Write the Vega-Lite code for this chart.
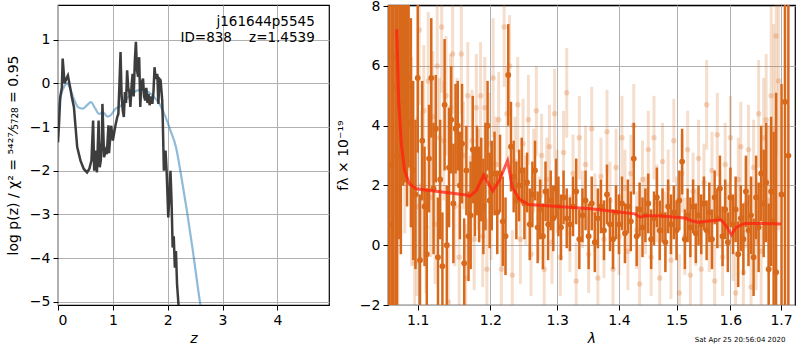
{
  "$schema": "https://vega.github.io/schema/vega-lite/v6.json",
  "padding": {"left": 5, "top": -2, "right": 0, "bottom": 0},
  "spacing": 5,
  "background": "white",
  "config": {
    "font": "DejaVu Sans",
    "view": {"stroke": "black", "strokeWidth": 1.2},
    "axis": {
      "grid": true, "gridColor": "#b0b0b0", "gridWidth": 1,
      "domain": false, "tickColor": "black", "tickSize": 5, "tickWidth": 1,
      "labelFont": "DejaVu Sans", "labelFontSize": 14, "labelColor": "black", "labelPadding": 3,
      "titleFont": "DejaVu Sans", "titleFontSize": 14, "titleFontWeight": "normal", "titleColor": "black"
    }
  },
  "datasets": {
    "pz": [
      {"z":0,"lp":-1.35},{"z":0.02,"lp":-0.9},{"z":0.04,"lp":-0.32},{"z":0.07,"lp":-0.1},{"z":0.085,"lp":0.57},{"z":0.12,"lp":0.0},{"z":0.15,"lp":0.1},{"z":0.18,"lp":0.18},{"z":0.22,"lp":-0.08},{"z":0.25,"lp":-0.3},{"z":0.29,"lp":-0.54},{"z":0.32,"lp":-1.0},{"z":0.35,"lp":-1.46},{"z":0.41,"lp":-1.77},{"z":0.47,"lp":-1.96},{"z":0.53,"lp":-2.04},{"z":0.57,"lp":-1.96},{"z":0.61,"lp":-1.77},{"z":0.64,"lp":-0.85},{"z":0.66,"lp":-2.0},{"z":0.68,"lp":-1.54},{"z":0.71,"lp":-2.04},{"z":0.74,"lp":-0.85},{"z":0.76,"lp":-1.92},{"z":0.78,"lp":-1.77},{"z":0.8,"lp":-1.31},{"z":0.81,"lp":-0.47},{"z":0.84,"lp":-1.69},{"z":0.87,"lp":-1.54},{"z":0.89,"lp":-1.62},{"z":0.92,"lp":-0.96},{"z":0.93,"lp":-1.6},{"z":0.97,"lp":-0.97},{"z":1.0,"lp":-1.31},{"z":1.02,"lp":-1.16},{"z":1.05,"lp":-0.95},{"z":1.08,"lp":-0.77},{"z":1.1,"lp":-0.7},{"z":1.12,"lp":-0.01},{"z":1.14,"lp":0.72},{"z":1.16,"lp":-0.3},{"z":1.18,"lp":-0.62},{"z":1.2,"lp":-0.77},{"z":1.22,"lp":-0.2},{"z":1.24,"lp":-0.45},{"z":1.26,"lp":0.3},{"z":1.28,"lp":-0.1},{"z":1.3,"lp":-0.2},{"z":1.32,"lp":-0.54},{"z":1.34,"lp":-0.08},{"z":1.36,"lp":0.22},{"z":1.38,"lp":-0.3},{"z":1.4,"lp":0.5},{"z":1.42,"lp":0.95},{"z":1.44,"lp":0.3},{"z":1.46,"lp":0.15},{"z":1.48,"lp":0.6},{"z":1.5,"lp":-0.54},{"z":1.52,"lp":0.0},{"z":1.55,"lp":0.11},{"z":1.57,"lp":-0.3},{"z":1.59,"lp":-0.39},{"z":1.61,"lp":-0.1},{"z":1.63,"lp":-0.45},{"z":1.65,"lp":-0.24},{"z":1.67,"lp":-0.5},{"z":1.7,"lp":-0.3},{"z":1.72,"lp":-0.47},{"z":1.74,"lp":-0.2},{"z":1.76,"lp":0.37},{"z":1.78,"lp":0.1},{"z":1.81,"lp":0.22},{"z":1.83,"lp":-0.47},{"z":1.85,"lp":0.1},{"z":1.87,"lp":0.07},{"z":1.9,"lp":-0.39},{"z":1.91,"lp":-0.85},{"z":1.93,"lp":-2.0},{"z":1.96,"lp":-1.54},{"z":1.98,"lp":-2.0},{"z":2.01,"lp":-3.07},{"z":2.03,"lp":-2.6},{"z":2.05,"lp":-2.0},{"z":2.07,"lp":-2.7},{"z":2.09,"lp":-3.76},{"z":2.11,"lp":-3.5},{"z":2.13,"lp":-4.22},{"z":2.15,"lp":-3.84},{"z":2.17,"lp":-4.6},{"z":2.21,"lp":-5.3}
    ],
    "pzfit": [
      {"z":0,"lp":-0.7},{"z":0.05,"lp":-0.3},{"z":0.12,"lp":-0.05},{"z":0.17,"lp":0.0},{"z":0.22,"lp":-0.12},{"z":0.3,"lp":-0.39},{"z":0.37,"lp":-0.55},{"z":0.45,"lp":-0.58},{"z":0.52,"lp":-0.51},{"z":0.6,"lp":-0.43},{"z":0.68,"lp":-0.58},{"z":0.75,"lp":-0.7},{"z":0.82,"lp":-0.66},{"z":0.9,"lp":-0.76},{"z":0.95,"lp":-0.74},{"z":1.05,"lp":-0.58},{"z":1.15,"lp":-0.51},{"z":1.25,"lp":-0.35},{"z":1.35,"lp":-0.24},{"z":1.45,"lp":-0.16},{"z":1.55,"lp":-0.15},{"z":1.65,"lp":-0.2},{"z":1.75,"lp":-0.31},{"z":1.85,"lp":-0.47},{"z":1.95,"lp":-0.74},{"z":2.05,"lp":-1.08},{"z":2.15,"lp":-1.46},{"z":2.25,"lp":-2.15},{"z":2.35,"lp":-2.92},{"z":2.45,"lp":-3.76},{"z":2.55,"lp":-4.68},{"z":2.62,"lp":-5.3}
    ],
    "model": [
      {"w":1.0727,"f":7.23},{"w":1.0751,"f":4.87},{"w":1.0785,"f":3.41},{"w":1.0827,"f":2.51},{"w":1.089,"f":2.06},{"w":1.0977,"f":1.89},{"w":1.1243,"f":1.81},{"w":1.166,"f":1.68},{"w":1.1707,"f":1.64},{"w":1.18,"f":1.83},{"w":1.1902,"f":2.34},{"w":1.2035,"f":1.81},{"w":1.213,"f":2.17},{"w":1.225,"f":2.83},{"w":1.232,"f":1.95},{"w":1.242,"f":1.55},{"w":1.256,"f":1.36},{"w":1.3017,"f":1.3},{"w":1.354,"f":1.22},{"w":1.41,"f":1.09},{"w":1.427,"f":1.05},{"w":1.436,"f":0.94},{"w":1.445,"f":0.99},{"w":1.468,"f":0.99},{"w":1.515,"f":0.91},{"w":1.527,"f":0.82},{"w":1.539,"f":0.77},{"w":1.564,"f":0.82},{"w":1.582,"f":0.85},{"w":1.592,"f":0.65},{"w":1.602,"f":0.35},{"w":1.611,"f":0.6},{"w":1.627,"f":0.73},{"w":1.654,"f":0.73},{"w":1.7,"f":0.71}
    ],
    "dark": [
      {"w":1.063,"f":0.7,"e":9},{"w":1.066,"f":2.7,"e":10},{"w":1.068,"f":6.3,"e":9},{"w":1.071,"f":5.3,"e":9},{"w":1.073,"f":3.0,"e":8},{"w":1.076,"f":6.2,"e":6},{"w":1.078,"f":4.7,"e":5},{"w":1.081,"f":6.0,"e":4},{"w":1.083,"f":5.6,"e":3.5},{"w":1.086,"f":5.3,"e":4},{"w":1.088,"f":5.6,"e":3},{"w":1.091,"f":4.1,"e":3.5},{"w":1.094,"f":2.5,"e":3},{"w":1.097,"f":1.7,"e":2.5},{"w":1.1,"f":5.6,"e":2.5},{"w":1.103,"f":-0.5,"e":2.2},{"w":1.106,"f":3.5,"e":2},{"w":1.109,"f":1.3,"e":2},{"w":1.112,"f":-0.3,"e":2.2},{"w":1.115,"f":2.9,"e":1.8},{"w":1.118,"f":5.6,"e":2},{"w":1.121,"f":1.9,"e":2.2},{"w":1.124,"f":3.9,"e":1.8},{"w":1.127,"f":-0.4,"e":2},{"w":1.13,"f":2.2,"e":2},{"w":1.133,"f":-0.7,"e":1.8},{"w":1.136,"f":4.7,"e":2.2},{"w":1.139,"f":0.0,"e":2},{"w":1.142,"f":2.6,"e":2},{"w":1.145,"f":4.2,"e":1.8},{"w":1.148,"f":1.4,"e":2},{"w":1.151,"f":3.9,"e":1.5},{"w":1.154,"f":4.0,"e":1.5},{"w":1.157,"f":2.0,"e":1.8},{"w":1.16,"f":3.4,"e":2},{"w":1.163,"f":-0.6,"e":1.5},{"w":1.166,"f":2.5,"e":1.5},{"w":1.169,"f":0.3,"e":1.5},{"w":1.172,"f":1.0,"e":1.8},{"w":1.175,"f":3.2,"e":1.8},{"w":1.178,"f":1.8,"e":1.5},{"w":1.181,"f":2.5,"e":1.5},{"w":1.184,"f":1.7,"e":1.6},{"w":1.187,"f":2.2,"e":1.4},{"w":1.19,"f":1.3,"e":1.6},{"w":1.193,"f":2.3,"e":1.8},{"w":1.196,"f":4.0,"e":1.5},{"w":1.199,"f":1.5,"e":1.6},{"w":1.202,"f":2.0,"e":1.5},{"w":1.206,"f":2.4,"e":1.4},{"w":1.21,"f":1.1,"e":1.4},{"w":1.214,"f":2.4,"e":1.3},{"w":1.218,"f":0.8,"e":1.5},{"w":1.222,"f":0.3,"e":1.3},{"w":1.226,"f":5.7,"e":1.7},{"w":1.23,"f":3.3,"e":1.5},{"w":1.234,"f":2.3,"e":1.2},{"w":1.238,"f":1.5,"e":1.3},{"w":1.242,"f":2.0,"e":1.2},{"w":1.246,"f":2.5,"e":1.1},{"w":1.25,"f":1.4,"e":1.2},{"w":1.254,"f":2.1,"e":1.0},{"w":1.258,"f":0.7,"e":1.2},{"w":1.262,"f":1.7,"e":1.1},{"w":1.266,"f":2.5,"e":1.0},{"w":1.27,"f":0.6,"e":1.2},{"w":1.274,"f":1.2,"e":1.0},{"w":1.278,"f":0.3,"e":1.1},{"w":1.282,"f":1.8,"e":1.0},{"w":1.286,"f":0.7,"e":1.2},{"w":1.29,"f":1.5,"e":1.0},{"w":1.294,"f":0.9,"e":1.1},{"w":1.298,"f":1.9,"e":1.0},{"w":1.302,"f":1.3,"e":1.0},{"w":1.306,"f":0.6,"e":1.1},{"w":1.31,"f":1.6,"e":0.9},{"w":1.315,"f":0.9,"e":1.0},{"w":1.32,"f":0.7,"e":0.9},{"w":1.325,"f":1.3,"e":1.0},{"w":1.33,"f":1.8,"e":1.1},{"w":1.335,"f":0.2,"e":1.0},{"w":1.34,"f":1.0,"e":0.9},{"w":1.345,"f":1.5,"e":1.0},{"w":1.35,"f":0.3,"e":1.1},{"w":1.355,"f":1.4,"e":0.9},{"w":1.36,"f":0.1,"e":1.0},{"w":1.365,"f":0.9,"e":1.0},{"w":1.37,"f":1.3,"e":0.9},{"w":1.375,"f":0.5,"e":1.0},{"w":1.38,"f":1.7,"e":1.0},{"w":1.385,"f":0.7,"e":0.9},{"w":1.39,"f":0.2,"e":1.0},{"w":1.395,"f":1.1,"e":0.9},{"w":1.4,"f":0.7,"e":1.0},{"w":1.405,"f":1.4,"e":0.9},{"w":1.41,"f":0.4,"e":1.0},{"w":1.415,"f":1.3,"e":0.9},{"w":1.42,"f":0.8,"e":1.0},{"w":1.425,"f":2.9,"e":1.2},{"w":1.43,"f":0.3,"e":1.0},{"w":1.435,"f":1.2,"e":0.9},{"w":1.44,"f":0.6,"e":1.0},{"w":1.445,"f":1.0,"e":0.9},{"w":1.45,"f":1.4,"e":1.0},{"w":1.455,"f":0.2,"e":1.0},{"w":1.46,"f":0.9,"e":0.9},{"w":1.465,"f":1.6,"e":1.0},{"w":1.47,"f":0.5,"e":1.0},{"w":1.475,"f":1.0,"e":0.9},{"w":1.48,"f":0.1,"e":1.0},{"w":1.485,"f":1.3,"e":0.9},{"w":1.49,"f":0.7,"e":1.0},{"w":1.495,"f":1.1,"e":0.9},{"w":1.5,"f":0.5,"e":1.0},{"w":1.505,"f":1.5,"e":1.0},{"w":1.51,"f":2.8,"e":1.1},{"w":1.515,"f":0.2,"e":1.0},{"w":1.52,"f":1.0,"e":0.9},{"w":1.525,"f":0.6,"e":1.0},{"w":1.53,"f":1.3,"e":0.9},{"w":1.535,"f":0.4,"e":1.0},{"w":1.54,"f":1.0,"e":1.0},{"w":1.545,"f":0.7,"e":1.0},{"w":1.55,"f":1.4,"e":0.9},{"w":1.555,"f":0.5,"e":1.0},{"w":1.56,"f":1.1,"e":1.0},{"w":1.565,"f":0.2,"e":1.0},{"w":1.57,"f":1.6,"e":0.9},{"w":1.575,"f":0.9,"e":1.0},{"w":1.58,"f":1.9,"e":1.1},{"w":1.585,"f":0.3,"e":1.0},{"w":1.59,"f":1.2,"e":1.0},{"w":1.595,"f":0.1,"e":1.0},{"w":1.6,"f":1.6,"e":1.0},{"w":1.605,"f":0.7,"e":1.0},{"w":1.61,"f":1.2,"e":1.1},{"w":1.615,"f":-0.3,"e":1.1},{"w":1.62,"f":0.9,"e":1.1},{"w":1.625,"f":0.2,"e":1.2},{"w":1.63,"f":1.8,"e":1.2},{"w":1.635,"f":0.5,"e":1.2},{"w":1.64,"f":1.0,"e":1.3},{"w":1.645,"f":-0.4,"e":1.3},{"w":1.65,"f":1.6,"e":1.4},{"w":1.655,"f":0.6,"e":1.5},{"w":1.66,"f":2.4,"e":1.6},{"w":1.665,"f":1.4,"e":1.8},{"w":1.67,"f":2.1,"e":2.0},{"w":1.675,"f":-0.8,"e":2.2},{"w":1.68,"f":1.8,"e":2.5},{"w":1.685,"f":0.8,"e":3},{"w":1.69,"f":-0.9,"e":6},{"w":1.701,"f":1.7,"e":3.7},{"w":1.708,"f":4.8,"e":12},{"w":1.715,"f":3.0,"e":12}
    ],
    "light": [
      {"w":1.064,"f":3.0,"e":8},{"w":1.07,"f":7.0,"e":6},{"w":1.074,"f":1.0,"e":6},{"w":1.079,"f":7.8,"e":5},{"w":1.083,"f":4.4,"e":4},{"w":1.088,"f":6.5,"e":4},{"w":1.092,"f":2.8,"e":3.5},{"w":1.096,"f":-0.6,"e":3},{"w":1.099,"f":1.3,"e":3},{"w":1.102,"f":7.2,"e":2.5},{"w":1.105,"f":2.0,"e":2.5},{"w":1.108,"f":4.5,"e":2.2},{"w":1.111,"f":0.6,"e":2.2},{"w":1.114,"f":5.5,"e":2.3},{"w":1.117,"f":1.6,"e":2},{"w":1.12,"f":4.3,"e":2.2},{"w":1.123,"f":0.7,"e":2},{"w":1.126,"f":6.0,"e":2.2},{"w":1.129,"f":3.6,"e":2},{"w":1.132,"f":7.3,"e":2.2},{"w":1.135,"f":3.5,"e":2},{"w":1.138,"f":5.0,"e":2},{"w":1.141,"f":-1.9,"e":2},{"w":1.144,"f":4.6,"e":1.8},{"w":1.147,"f":6.4,"e":2},{"w":1.15,"f":1.3,"e":2},{"w":1.153,"f":3.8,"e":1.8},{"w":1.156,"f":-0.4,"e":1.8},{"w":1.159,"f":6.4,"e":2},{"w":1.162,"f":3.0,"e":1.8},{"w":1.165,"f":-1.1,"e":1.8},{"w":1.168,"f":5.0,"e":1.8},{"w":1.171,"f":1.3,"e":1.7},{"w":1.174,"f":3.5,"e":1.7},{"w":1.177,"f":0.2,"e":1.7},{"w":1.18,"f":4.6,"e":1.8},{"w":1.183,"f":2.2,"e":1.7},{"w":1.186,"f":5.0,"e":1.8},{"w":1.189,"f":0.3,"e":1.7},{"w":1.192,"f":4.6,"e":1.7},{"w":1.195,"f":-0.8,"e":1.7},{"w":1.198,"f":3.4,"e":1.7},{"w":1.201,"f":1.1,"e":1.6},{"w":1.204,"f":5.6,"e":2},{"w":1.208,"f":2.7,"e":1.6},{"w":1.212,"f":4.2,"e":1.6},{"w":1.216,"f":-0.8,"e":1.6},{"w":1.22,"f":7.3,"e":2.0},{"w":1.224,"f":4.4,"e":1.6},{"w":1.228,"f":6.0,"e":1.7},{"w":1.232,"f":-1.0,"e":1.5},{"w":1.236,"f":2.8,"e":1.5},{"w":1.24,"f":4.7,"e":1.6},{"w":1.244,"f":0.2,"e":1.5},{"w":1.248,"f":3.4,"e":1.5},{"w":1.252,"f":1.5,"e":1.5},{"w":1.256,"f":4.2,"e":1.5},{"w":1.26,"f":-0.3,"e":1.4},{"w":1.264,"f":2.5,"e":1.4},{"w":1.268,"f":4.5,"e":1.5},{"w":1.272,"f":0.9,"e":1.4},{"w":1.276,"f":3.0,"e":1.4},{"w":1.28,"f":-0.8,"e":1.4},{"w":1.284,"f":2.2,"e":1.4},{"w":1.288,"f":3.3,"e":1.4},{"w":1.292,"f":0.1,"e":1.4},{"w":1.296,"f":4.4,"e":1.5},{"w":1.3,"f":1.8,"e":1.4},{"w":1.305,"f":-0.4,"e":1.3},{"w":1.31,"f":3.1,"e":1.4},{"w":1.315,"f":5.1,"e":1.5},{"w":1.32,"f":0.4,"e":1.3},{"w":1.325,"f":2.4,"e":1.3},{"w":1.33,"f":-1.2,"e":1.3},{"w":1.335,"f":3.6,"e":1.4},{"w":1.34,"f":1.2,"e":1.3},{"w":1.345,"f":2.7,"e":1.3},{"w":1.35,"f":-0.3,"e":1.3},{"w":1.355,"f":3.9,"e":1.4},{"w":1.36,"f":1.1,"e":1.3},{"w":1.365,"f":-1.1,"e":1.3},{"w":1.37,"f":2.3,"e":1.3},{"w":1.375,"f":0.2,"e":1.3},{"w":1.38,"f":3.8,"e":1.4},{"w":1.385,"f":1.5,"e":1.3},{"w":1.39,"f":-0.8,"e":1.3},{"w":1.395,"f":2.6,"e":1.3},{"w":1.4,"f":0.3,"e":1.3},{"w":1.405,"f":3.6,"e":1.4},{"w":1.41,"f":1.9,"e":1.3},{"w":1.415,"f":-0.2,"e":1.3},{"w":1.42,"f":2.4,"e":1.3},{"w":1.425,"f":4.0,"e":1.4},{"w":1.43,"f":0.5,"e":1.3},{"w":1.435,"f":-1.3,"e":1.3},{"w":1.44,"f":2.2,"e":1.3},{"w":1.445,"f":1.0,"e":1.3},{"w":1.45,"f":3.2,"e":1.3},{"w":1.455,"f":-0.4,"e":1.3},{"w":1.46,"f":3.6,"e":1.4},{"w":1.465,"f":1.4,"e":1.3},{"w":1.47,"f":-1.1,"e":1.3},{"w":1.475,"f":2.8,"e":1.3},{"w":1.48,"f":0.5,"e":1.3},{"w":1.485,"f":1.9,"e":1.3},{"w":1.49,"f":-0.5,"e":1.3},{"w":1.495,"f":3.5,"e":1.4},{"w":1.5,"f":1.0,"e":1.3},{"w":1.505,"f":-1.6,"e":1.3},{"w":1.51,"f":2.4,"e":1.3},{"w":1.515,"f":0.3,"e":1.3},{"w":1.52,"f":3.2,"e":1.3},{"w":1.525,"f":-1.0,"e":1.3},{"w":1.53,"f":1.8,"e":1.3},{"w":1.535,"f":0.6,"e":1.3},{"w":1.54,"f":2.9,"e":1.3},{"w":1.545,"f":-0.8,"e":1.3},{"w":1.55,"f":2.1,"e":1.3},{"w":1.555,"f":4.7,"e":1.5},{"w":1.56,"f":0.4,"e":1.3},{"w":1.565,"f":2.5,"e":1.3},{"w":1.57,"f":-1.2,"e":1.3},{"w":1.575,"f":3.7,"e":1.4},{"w":1.58,"f":1.2,"e":1.3},{"w":1.585,"f":-0.4,"e":1.3},{"w":1.59,"f":2.7,"e":1.4},{"w":1.595,"f":0.8,"e":1.3},{"w":1.6,"f":3.6,"e":1.4},{"w":1.605,"f":0.2,"e":1.4},{"w":1.61,"f":-1.6,"e":1.4},{"w":1.615,"f":2.2,"e":1.4},{"w":1.62,"f":3.3,"e":1.5},{"w":1.625,"f":-0.9,"e":1.4},{"w":1.63,"f":1.4,"e":1.5},{"w":1.635,"f":3.2,"e":1.5},{"w":1.64,"f":-1.4,"e":1.5},{"w":1.645,"f":2.6,"e":1.6},{"w":1.65,"f":0.1,"e":1.6},{"w":1.655,"f":4.4,"e":1.8},{"w":1.66,"f":-0.2,"e":1.8},{"w":1.665,"f":3.6,"e":2},{"w":1.67,"f":4.2,"e":2.2},{"w":1.675,"f":1.5,"e":2.5},{"w":1.68,"f":5.0,"e":3},{"w":1.685,"f":3.9,"e":3.5},{"w":1.69,"f":7.0,"e":4},{"w":1.695,"f":5.5,"e":5}
    ]
  },
  "hconcat": [
    {
      "width": 271,
      "height": 300,
      "layer": [
        {
          "data": {"name": "pzfit"},
          "mark": {"type": "line", "color": "#1f77b4", "opacity": 0.5, "strokeWidth": 2.2, "clip": true, "interpolate": "monotone"},
          "encoding": {
            "x": {"field": "z", "type": "quantitative", "title": "z", "scale": {"domain": [0, 4.94], "nice": false, "zero": false},
                  "axis": {"values": [0, 1, 2, 3, 4], "format": "d", "titleFontStyle": "italic", "titlePadding": 4}},
            "y": {"field": "lp", "type": "quantitative", "title": "log p(z) / χ² = ⁵⁴²⁷⁄₅₇₂₈ = 0.95", "scale": {"domain": [-5.076, 1.795], "nice": false, "zero": false},
                  "axis": {"values": [-5, -4, -3, -2, -1, 0, 1], "format": "d", "titlePadding": 9}}
          }
        },
        {
          "data": {"name": "pz"},
          "mark": {"type": "line", "color": "#333333", "opacity": 0.95, "strokeWidth": 2.5, "clip": true},
          "encoding": {
            "x": {"field": "z", "type": "quantitative", "title": "z"},
            "y": {"field": "lp", "type": "quantitative", "title": "log p(z) / χ² = ⁵⁴²⁷⁄₅₇₂₈ = 0.95"}
          }
        },
        {
          "data": {"values": [{"t": "j161644p5545"}]},
          "mark": {"type": "text", "align": "right", "baseline": "middle", "fontSize": 13.5, "color": "black"},
          "encoding": {"x": {"datum": 4.68}, "y": {"datum": 1.4}, "text": {"field": "t"}}
        },
        {
          "data": {"values": [{"t": "ID=838\u00a0\u00a0\u00a0\u00a0z=1.4539"}]},
          "mark": {"type": "text", "align": "right", "baseline": "middle", "fontSize": 13.5, "color": "black"},
          "encoding": {"x": {"datum": 4.68}, "y": {"datum": 1.05}, "text": {"field": "t"}}
        }
      ]
    },
    {
      "width": 407,
      "height": 300,
      "layer": [
        {
          "data": {"name": "light"},
          "mark": {"type": "errorbar", "color": "#d8691b", "opacity": 0.22, "thickness": 3, "clip": true},
          "encoding": {
            "x": {"field": "w", "type": "quantitative", "title": "λ", "scale": {"type": "log", "domain": [1.0615, 1.7287], "nice": false},
                  "axis": {"values": [1.1, 1.2, 1.3, 1.4, 1.5, 1.6, 1.7], "format": ".1f", "titleFontStyle": "italic", "titlePadding": 4}},
            "y": {"field": "f", "type": "quantitative", "title": "fλ × 10⁻¹⁹", "scale": {"domain": [-2, 8.04], "nice": false, "zero": false},
                  "axis": {"values": [-2, 0, 2, 4, 6, 8], "format": "d", "titlePadding": 9}},
            "yError": {"field": "e"}
          }
        },
        {
          "data": {"name": "light"},
          "mark": {"type": "point", "filled": true, "shape": "circle", "size": 30, "color": "#d8691b", "opacity": 0.25, "clip": true},
          "encoding": {
            "x": {"field": "w", "type": "quantitative", "title": "λ"},
            "y": {"field": "f", "type": "quantitative", "title": "fλ × 10⁻¹⁹"}
          }
        },
        {
          "data": {"name": "dark"},
          "mark": {"type": "errorbar", "color": "#d8691b", "opacity": 1, "thickness": 2.5, "clip": true},
          "encoding": {
            "x": {"field": "w", "type": "quantitative", "title": "λ"},
            "y": {"field": "f", "type": "quantitative", "title": "fλ × 10⁻¹⁹"},
            "yError": {"field": "e"}
          }
        },
        {
          "data": {"name": "dark"},
          "mark": {"type": "point", "filled": true, "shape": "circle", "size": 34, "color": "#d8691b", "opacity": 1, "clip": true},
          "encoding": {
            "x": {"field": "w", "type": "quantitative", "title": "λ"},
            "y": {"field": "f", "type": "quantitative", "title": "fλ × 10⁻¹⁹"}
          }
        },
        {
          "data": {"name": "model"},
          "mark": {"type": "line", "color": "#ff2010", "opacity": 0.75, "strokeWidth": 3, "clip": true},
          "encoding": {
            "x": {"field": "w", "type": "quantitative", "title": "λ"},
            "y": {"field": "f", "type": "quantitative", "title": "fλ × 10⁻¹⁹"}
          }
        },
        {
          "mark": {"type": "rule", "color": "black", "strokeDash": [2, 3], "strokeWidth": 1.5},
          "encoding": {"y": {"datum": 0, "title": "fλ × 10⁻¹⁹"}}
        },
        {
          "data": {"values": [{"t": "Sat Apr 25 20:56:04 2020"}]},
          "mark": {"type": "text", "align": "right", "baseline": "middle", "fontSize": 7, "color": "black"},
          "encoding": {"x": {"datum": 1.709}, "y": {"datum": -3.17}, "text": {"field": "t"}}
        }
      ]
    }
  ]
}
